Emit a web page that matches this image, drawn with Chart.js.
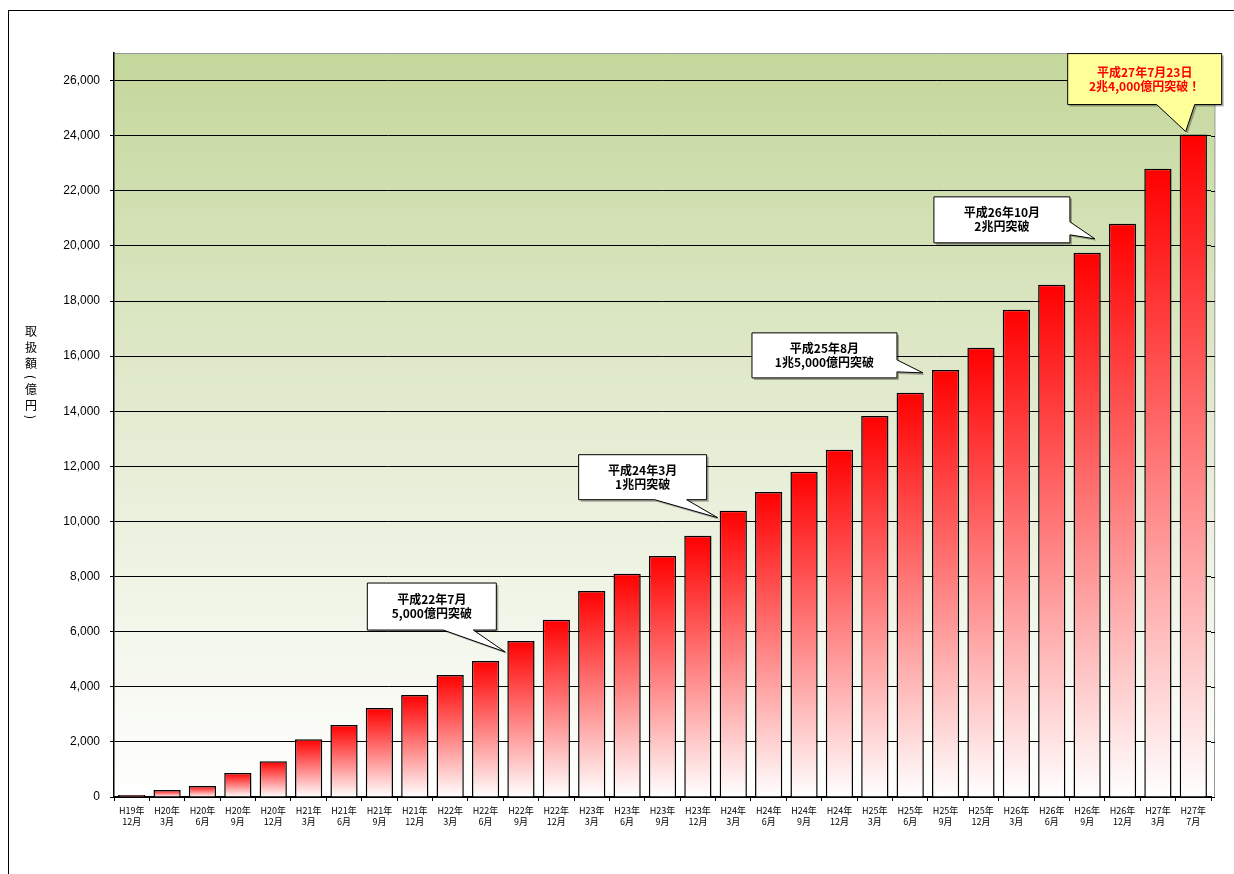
<!DOCTYPE html>
<html>
<head>
<meta charset="utf-8">
<script src="https://cdn.jsdelivr.net/npm/chart.js@4/dist/chart.umd.min.js"></script>
<style>
  body { margin: 0; background: #fff; }
  #wrap { position: relative; width: 1234px; height: 874px; }
  #frame { position: absolute; left: 8px; top: 10px; width: 1240px; height: 880px; border: 1px solid #000; }
  canvas { position: absolute; left: 0; top: 0; }
</style>
</head>
<body>
<div id="wrap">
  <div id="frame"></div>
  <canvas id="chart" width="1234" height="874"></canvas>
</div>
<script>
// 年/月 ラベル
const years = ["H19年","H20年","H20年","H20年","H20年","H21年","H21年","H21年","H21年","H22年","H22年","H22年","H22年",
  "H23年","H23年","H23年","H23年","H24年","H24年","H24年","H24年","H25年","H25年","H25年","H25年",
  "H26年","H26年","H26年","H26年","H27年","H27年"];
const months = ["12月","3月","6月","9月","12月","3月","6月","9月","12月","3月","6月","9月","12月",
  "3月","6月","9月","12月","3月","6月","9月","12月","3月","6月","9月","12月",
  "3月","6月","9月","12月","3月","7月"];
// 取扱額（億円）
const amounts = [70, 250, 400, 870, 1300, 2100, 2610, 3230, 3700, 4430, 4940, 5660, 6430,
  7480, 8100, 8750, 9480, 10390, 11070, 11800, 12600, 13830, 14670, 15500, 16300,
  17680, 18590, 19750, 20800, 22800, 24040];
const yTicks = [0, 2000, 4000, 6000, 8000, 10000, 12000, 14000, 16000, 18000, 20000, 22000, 24000, 26000];
const yTitle = ["取","扱","額","(","億","円",")"];
const yTitlePos = [331, 347, 363, 377, 389, 405, 417];

// 吹き出し: bar index, text, tip offset from bar top-left, box offset from tip, tail side
const callouts = [
  { bar: 11, lines: ["平成22年7月", "5,000億円突破"], ox: -2, oy: 11, dx: -138, dy: -69, w: 129, h: 47, side: "bottom", t1: 76, t2: 106 },
  { bar: 17, lines: ["平成24年3月", "1兆円突破"], ox: -2, oy: 7, dx: -139, dy: -63, w: 128, h: 45, side: "bottom", t1: 76, t2: 108 },
  { bar: 23, lines: ["平成25年8月", "1兆5,000億円突破"], ox: -9, oy: 3, dx: -171, dy: -40, w: 145, h: 45, side: "right", t1: 27, t2: 39 },
  { bar: 28, lines: ["平成26年10月", "2兆円突破"], ox: -14, oy: 15, dx: -161, dy: -42, w: 136, h: 46, side: "right", t1: 25, t2: 38 },
  { bar: 30, lines: ["平成27年7月23日", "2兆4,000億円突破！"], ox: 6, oy: -3, dx: -118, dy: -78, w: 154, h: 51, side: "bottom", t1: 89, t2: 127, fill: "#ffff99", color: "#ff0000" }
];

const jp = '"Noto Sans CJK JP", "Noto Sans", sans-serif';

const bgPlugin = {
  id: 'bg',
  beforeDraw(chart) {
    const { ctx, chartArea: a } = chart;
    const right = a.right + 4;
    const g = ctx.createLinearGradient(0, a.top, 0, a.bottom);
    g.addColorStop(0, '#c4d79b');
    g.addColorStop(0.5, '#e4ecd2');
    g.addColorStop(1, '#ffffff');
    ctx.save();
    ctx.fillStyle = g;
    ctx.fillRect(a.left, a.top, right - a.left, a.bottom - a.top);
    ctx.strokeStyle = '#999';
    ctx.lineWidth = 1;
    ctx.beginPath();
    ctx.moveTo(a.left, a.top + 0.5);
    ctx.lineTo(right, a.top + 0.5);
    ctx.lineTo(right - 0.5, a.bottom);
    ctx.stroke();
    // gridlines continue to the extended right edge
    ctx.strokeStyle = '#000';
    ctx.beginPath();
    yTicks.forEach(v => {
      const y = Math.round(chart.scales.y.getPixelForValue(v)) + 0.5;
      ctx.moveTo(a.right, y);
      ctx.lineTo(right, y);
    });
    ctx.stroke();
    ctx.restore();
  }
};

const notePlugin = {
  id: 'notes',
  afterDraw(chart) {
    const ctx = chart.ctx;
    const meta = chart.getDatasetMeta(0);
    ctx.save();
    // 縦書きの軸タイトル (括弧は回転)
    ctx.fillStyle = '#000';
    ctx.font = '12px ' + jp;
    ctx.textAlign = 'center';
    ctx.textBaseline = 'middle';
    yTitle.forEach((c, i) => {
      if (c === '(' || c === ')') {
        ctx.save();
        ctx.translate(31, yTitlePos[i]);
        ctx.rotate(Math.PI / 2);
        ctx.fillText(c, 0, 0);
        ctx.restore();
      } else {
        ctx.fillText(c, 31, yTitlePos[i]);
      }
    });

    callouts.forEach(c => {
      const el = meta.data[c.bar];
      const tx = el.x - el.width / 2 + c.ox, ty = el.y + c.oy;
      const bx = tx + c.dx, by = ty + c.dy;
      ctx.beginPath();
      ctx.moveTo(bx, by);
      ctx.lineTo(bx + c.w, by);
      if (c.side === 'right') {
        ctx.lineTo(bx + c.w, by + c.t1);
        ctx.lineTo(tx, ty);
        ctx.lineTo(bx + c.w, by + c.t2);
        ctx.lineTo(bx + c.w, by + c.h);
        ctx.lineTo(bx, by + c.h);
      } else {
        ctx.lineTo(bx + c.w, by + c.h);
        ctx.lineTo(bx + c.t2, by + c.h);
        ctx.lineTo(tx, ty);
        ctx.lineTo(bx + c.t1, by + c.h);
        ctx.lineTo(bx, by + c.h);
      }
      ctx.closePath();
      ctx.shadowColor = 'rgba(0,0,0,0.3)';
      ctx.shadowOffsetX = 2;
      ctx.shadowOffsetY = 2;
      ctx.fillStyle = c.fill || '#fff';
      ctx.fill();
      ctx.shadowColor = 'transparent';
      ctx.strokeStyle = '#000';
      ctx.lineWidth = 1;
      ctx.stroke();
      ctx.fillStyle = c.color || '#000';
      ctx.font = 'bold 12px ' + jp;
      ctx.fillText(c.lines[0], bx + c.w / 2, by + c.h / 2 - 7);
      ctx.fillText(c.lines[1], bx + c.w / 2, by + c.h / 2 + 7);
    });
    ctx.restore();
  }
};

function barFill(context) {
  const chart = context.chart;
  const ys = chart.scales.y;
  if (!chart.chartArea || !ys || context.raw === undefined) return '#ff0000';
  const top = ys.getPixelForValue(context.raw);
  const base = ys.getPixelForValue(0);
  const g = chart.ctx.createLinearGradient(0, top, 0, base);
  g.addColorStop(0, '#ff0000');
  g.addColorStop(1, '#ffffff');
  return g;
}

new Chart(document.getElementById('chart'), {
  type: 'bar',
  data: {
    labels: years.map((y, i) => [y, months[i]]),
    datasets: [{
      data: amounts,
      backgroundColor: barFill,
      borderColor: '#000',
      borderWidth: 1.5,
      borderSkipped: 'bottom',
      barPercentage: 0.77,
      categoryPercentage: 1
    }]
  },
  options: {
    responsive: false,
    animation: false,
    events: [],
    layout: { padding: { top: 53, right: 23, left: 0, bottom: 0 } },
    plugins: { legend: { display: false }, tooltip: { enabled: false } },
    scales: {
      x: {
        afterFit(s) { s.height = 77; },
        grid: { drawOnChartArea: false, color: '#000', tickLength: 4, offset: true },
        border: { color: '#000', width: 1.5 },
        ticks: { color: '#000', font: { size: 9, family: jp }, maxRotation: 0, autoSkip: false, padding: 4 }
      },
      y: {
        min: 0, max: 27000,
        afterFit(s) { s.width = 114; },
        afterBuildTicks(s) { s.ticks = yTicks.map(v => ({ value: v })); },
        grid: { color: '#000', lineWidth: 1, drawTicks: true, tickLength: 4 },
        border: { color: '#000', width: 1.5 },
        ticks: {
          color: '#000', padding: 10,
          font: { size: 12, family: '"Liberation Sans", Arial, sans-serif' },
          callback: v => v.toLocaleString('en-US')
        }
      }
    }
  },
  plugins: [bgPlugin, notePlugin]
});
</script>
</body>
</html>
